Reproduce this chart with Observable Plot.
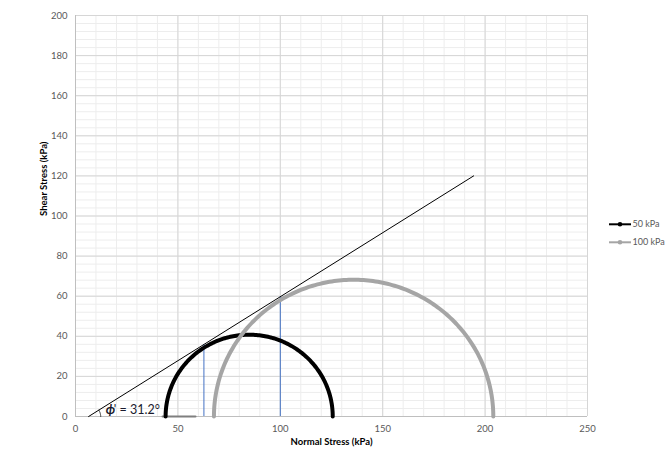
<!DOCTYPE html>
<html>
<head>
<meta charset="utf-8">
<script src="https://cdn.jsdelivr.net/npm/d3@7"></script>
<script src="https://cdn.jsdelivr.net/npm/@observablehq/plot@0.6"></script>
<style>
  body { margin: 0; background: #fff; }
  #wrap { position: relative; width: 672px; height: 463px; font-family: Lato, "Open Sans", sans-serif; }
  #legend { position: absolute; left: 0; top: 0; }
</style>
</head>
<body>
<div id="wrap"></div>
<script>
// ---- data ----
const series = ["50 kPa", "100 kPa"];
const sigma3 = [44.0, 67.6];      // minor principal stress (kPa)
const sigma1 = [125.6, 204.0];    // major principal stress (kPa)
const seriesColors = ["#000000", "#A5A5A5"];
const failureX = [6.4, 194.4];
const failureY = [0, 120];
const tangentX = [62.7, 100];
const tangentTop = [35.9, 59.8];
const baseLineX = [42.5, 58.6];
const phiLabel = "ϕ";
const phiRest = "' = 31.2°";
const xTicks = [0, 50, 100, 150, 200, 250];
const yTicks = [0, 20, 40, 60, 80, 100, 120, 140, 160, 180, 200];
const xMinor = d3.range(0, 251, 10);
const yMinor = d3.range(0, 201, 4);
const xTitle = "Normal Stress (kPa)";
const yTitle = "Shear Stress (kPa)";

// circle geometry derived from principal stresses
const circlePts = [];
series.forEach((s, i) => {
  const c = (sigma1[i] + sigma3[i]) / 2, r = (sigma1[i] - sigma3[i]) / 2;
  for (let k = 0; k <= 180; k++) {
    const t = Math.PI * k / 180;
    circlePts.push({ series: s, x: c - r * Math.cos(t), y: r * Math.sin(t) });
  }
});
const slopeAng = Math.atan2(failureY[1] - failureY[0], failureX[1] - failureX[0]);
const arcPts = d3.range(0, 31).map(k => {
  const t = slopeAng * k / 30;
  return { x: failureX[0] + 5.9 * Math.cos(t), y: 5.9 * Math.sin(t) };
});
const failure = failureX.map((x, i) => ({ x, y: failureY[i] }));
const tangents = tangentX.map((x, i) => ({ x, y1: 0, y2: tangentTop[i] }));

const font = "Lato, 'Open Sans', sans-serif";

const chart = Plot.plot({
  width: 672,
  height: 463,
  marginLeft: 75,
  marginRight: 85,
  marginTop: 15,
  marginBottom: 47,
  style: { fontFamily: font, background: "#fff", overflow: "visible" },
  x: { domain: [0, 250] },
  y: { domain: [0, 200] },
  color: { domain: series, range: seriesColors },
  marks: [
    Plot.ruleX(xMinor, { stroke: "#EDEDED", strokeWidth: 1 }),
    Plot.ruleY(yMinor, { stroke: "#EDEDED", strokeWidth: 1 }),
    Plot.ruleX(xTicks, { stroke: "#D6D6D6", strokeWidth: 1 }),
    Plot.ruleY(yTicks, { stroke: "#D6D6D6", strokeWidth: 1 }),
    Plot.ruleX([0], { stroke: "#BFBFBF", strokeWidth: 1 }),
    Plot.ruleY([0], { stroke: "#BFBFBF", strokeWidth: 1 }),
    Plot.axisX({ ticks: xTicks, tickSize: 0, tickPadding: 9, label: null, fontSize: 9.5, color: "#595959" }),
    Plot.axisY({ ticks: yTicks, tickSize: 0, tickPadding: 8, label: null, fontSize: 9.5, color: "#595959" }),
    Plot.ruleX(tangents, { x: "x", y1: "y1", y2: "y2", stroke: "#4472C4", strokeWidth: 1 }),
    Plot.line(baseLineX.map(x => ({ x, y: 0 })), { x: "x", y: "y", stroke: "#7F7F7F", strokeWidth: 2 }),
    Plot.line(circlePts, { x: "x", y: "y", z: "series", stroke: "series", strokeWidth: 4 }),
    Plot.line(failure, { x: "x", y: "y", stroke: "#000", strokeWidth: 1 }),
    Plot.line(arcPts, { x: "x", y: "y", stroke: "#000", strokeWidth: 0.8 }),
    Plot.text([phiLabel], { x: 14.8, y: 0, text: d => d, textAnchor: "start", dy: -7, fontSize: 13, fontStyle: "italic", fontWeight: "bold", fill: "#1a1a2e" }),
    Plot.text([phiRest], { x: 14.8, y: 0, text: d => d, textAnchor: "start", dx: 8, dy: -7, fontSize: 12.5, fill: "#1a1a2e" }),
    Plot.text([xTitle], { frameAnchor: "bottom", dy: 28.5, text: d => d, fontSize: 9.5, fontWeight: "bold", fill: "#000" }),
    Plot.text([yTitle], { frameAnchor: "left", dx: -32, rotate: -90, text: d => d, fontSize: 9.5, fontWeight: "bold", fill: "#000" })
  ]
});

const wrap = document.getElementById("wrap");
wrap.appendChild(chart);

// legend
const leg = d3.select(wrap).append("svg").attr("id", "legend").attr("width", 672).attr("height", 463);
series.forEach((s, i) => {
  const y = 224.3 + i * 18;
  const g = leg.append("g");
  g.append("line").attr("x1", 609).attr("x2", 631).attr("y1", y).attr("y2", y)
    .attr("stroke", seriesColors[i]).attr("stroke-width", 2);
  g.append("circle").attr("cx", 620).attr("cy", y).attr("r", 2.3).attr("fill", seriesColors[i]);
  g.append("text").attr("x", 632.5).attr("y", y + 3).attr("font-size", 9).attr("font-family", font)
    .attr("fill", "#595959").text(s);
});
</script>
</body>
</html>
